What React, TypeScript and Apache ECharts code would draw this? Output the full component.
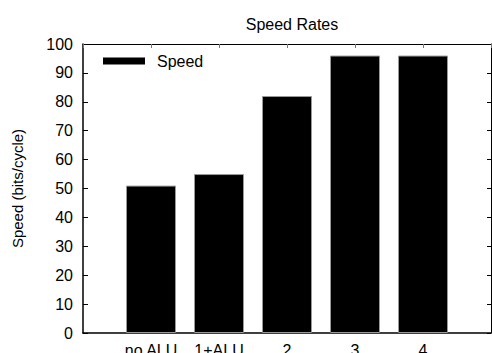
import React, { useEffect, useRef } from "react";
import * as echarts from "echarts";

const categories = ["no ALU", "1+ALU", "2", "3", "4"];
const speedValues = [51, 55, 82, 96, 96];
const yTicks = [0, 10, 20, 30, 40, 50, 60, 70, 80, 90, 100];

const FONT = "'Liberation Sans', Arial, Helvetica, sans-serif";

export default function App() {
  const ref = useRef<HTMLDivElement>(null);
  useEffect(() => {
    if (!ref.current) return;
    const chart = echarts.init(ref.current, null, { renderer: "svg" });
    const labelFmt = (v: number) => {
      const i = Math.round(v);
      return i >= 0 && i < categories.length ? categories[i] : "";
    };
    chart.setOption({
      animation: false,
      backgroundColor: "#fff",
      textStyle: { fontFamily: FONT },
      title: {
        text: "Speed Rates",
        left: 287,
        textAlign: "center",
        top: 11,
        textStyle: { fontSize: 16, fontWeight: "normal", color: "#000", fontFamily: FONT },
      },
      legend: {
        left: 98,
        top: 48,
        itemWidth: 42,
        itemHeight: 7,
        icon: "rect",
        itemStyle: { color: "#000", borderWidth: 0 },
        textStyle: { fontSize: 16, color: "#000", fontFamily: FONT, padding: [0, 0, 0, 7] },
        data: ["Speed"],
      },
      grid: { left: 83, right: 1, top: 44, bottom: 20, containLabel: false, outerBoundsMode: "none" },
      xAxis: [
        {
          type: "value",
          min: -1,
          max: 5,
          interval: 1,
          position: "bottom",
          splitLine: { show: false },
          axisLine: { show: true, onZero: false, lineStyle: { color: "#000", width: 1.5 } },
          axisTick: { show: false },
          axisLabel: {
            formatter: labelFmt,
            fontSize: 16,
            color: "#000",
            margin: 9,
            fontFamily: FONT,
            showMinLabel: false,
            showMaxLabel: false,
          },
        },
        {
          type: "value",
          min: -1,
          max: 5,
          interval: 1,
          position: "top",
          splitLine: { show: false },
          axisLine: { show: true, onZero: false, lineStyle: { color: "#000", width: 1 } },
          axisTick: { show: true, inside: true, length: 4, lineStyle: { color: "#777" } },
          axisLabel: { show: false },
        },
      ],
      yAxis: [
        {
          type: "value",
          min: 0,
          max: 100,
          interval: 10,
          position: "left",
          name: "Speed (bits/cycle)",
          nameLocation: "middle",
          nameGap: 58,
          nameTextStyle: { fontSize: 15, color: "#000", fontFamily: FONT },
          splitLine: { show: false },
          axisLine: { show: true, onZero: false, lineStyle: { color: "#000", width: 1.5 } },
          axisTick: { show: true, inside: true, length: 5, lineStyle: { color: "#000" } },
          axisLabel: {
            fontSize: 16,
            color: "#000",
            margin: 10,
            fontFamily: FONT,
            formatter: (v: number) => (yTicks.includes(v) ? String(v) : ""),
          },
        },
        {
          type: "value",
          min: 0,
          max: 100,
          interval: 10,
          position: "right",
          splitLine: { show: false },
          axisLine: { show: true, onZero: false, lineStyle: { color: "#000", width: 1 } },
          axisTick: { show: true, inside: true, length: 4, lineStyle: { color: "#000" } },
          axisLabel: { show: false },
        },
      ],
      series: [
        {
          name: "Speed",
          type: "bar",
          xAxisIndex: 0,
          yAxisIndex: 0,
          barWidth: 50,
          itemStyle: { color: "#000", borderColor: "#999", borderWidth: 1 },
          data: speedValues.map((v, i) => [i, v]),
        },
      ],
    });
    return () => chart.dispose();
  }, []);
  return (
    <div
      ref={ref}
      style={{ position: "fixed", left: 0, top: 0, width: 492, height: 353 }}
    />
  );
}
